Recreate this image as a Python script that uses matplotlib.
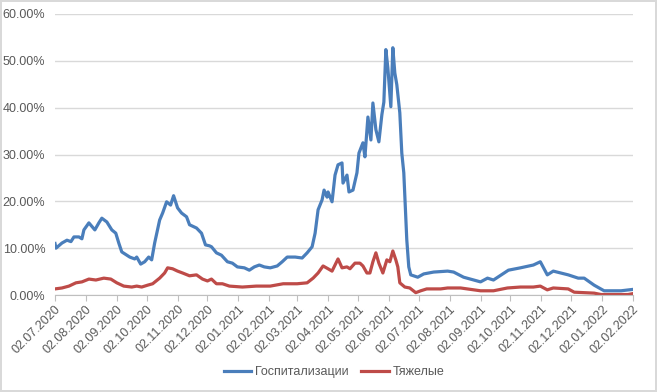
import pandas as pd
import matplotlib.pyplot as plt
import matplotlib.dates as mdates
from matplotlib.ticker import FuncFormatter

start = pd.Timestamp('2020-07-02')

# days since 02.07.2020, share in %
hosp_days = [0, 1, 7, 12, 16, 19, 24, 27, 29, 34, 40, 44, 47, 52, 57, 61, 64, 67, 75, 80,
             82, 86, 90, 94, 97, 100, 105, 108, 112, 116, 119, 123, 127, 132, 135, 142, 147,
             151, 155, 157, 162, 167, 173, 178, 183, 190, 195, 200, 205, 210, 216, 223, 228,
             233, 241, 248, 253, 258, 261, 264, 268, 270, 273, 274, 278, 281, 284, 288, 289,
             293, 295, 299, 303, 305, 309, 311, 314, 317, 319, 322, 325, 328, 330, 332, 334,
             337, 339, 341, 343, 346, 348, 350, 353, 355, 357, 364, 370, 380, 394, 400, 410,
             427, 434, 440, 455, 467, 480, 487, 494, 500, 515, 525, 531, 541, 551, 568, 580]
hosp_vals = [11.0, 10.0, 11.1, 11.7, 11.4, 12.4, 12.4, 12.0, 13.9, 15.4, 13.9, 15.4, 16.4,
             15.6, 13.9, 13.2, 11.1, 9.2, 8.1, 7.7, 8.1, 6.6, 7.1, 8.1, 7.5, 11.1, 16.0, 17.5,
             19.9, 19.2, 21.2, 18.6, 17.5, 16.7, 15.0, 14.3, 13.2, 10.7, 10.5, 10.3, 9.0, 8.5,
             7.1, 6.8, 6.0, 5.8, 5.3, 6.0, 6.4, 6.0, 5.8, 6.2, 7.1, 8.1, 8.1, 7.9, 9.0, 10.3,
             13.2, 18.2, 20.3, 22.4, 20.9, 22.0, 19.9, 25.6, 27.8, 28.2, 23.9, 25.6, 22.0, 22.4,
             26.1, 30.3, 32.5, 29.5, 38.0, 33.1, 41.0, 35.3, 32.7, 38.5, 41.2, 52.4, 48.5, 40.2,
             52.8, 47.4, 44.9, 38.9, 30.3, 26.1, 11.8, 6.0, 4.3, 3.8, 4.5, 4.9, 5.1, 4.9, 3.8,
             2.8, 3.6, 3.2, 5.3, 5.8, 6.4, 7.1, 4.3, 5.1, 4.3, 3.6, 3.6, 2.1, 0.9, 0.9, 1.2]

severe_days = [0, 7, 14, 21, 27, 34, 41, 49, 56, 62, 69, 77, 82, 87, 93, 98, 105, 110, 113,
               118, 123, 128, 135, 142, 148, 153, 157, 162, 168, 175, 188, 202, 216, 229, 243,
               253, 259, 264, 269, 274, 278, 284, 288, 293, 296, 301, 306, 309, 313, 316, 319,
               322, 325, 329, 333, 336, 339, 342, 344, 346, 351, 356, 362, 367, 373, 387, 394,
               407, 427, 440, 454, 467, 480, 487, 494, 500, 515, 521, 541, 548, 575, 580]
severe_vals = [1.3, 1.5, 1.9, 2.6, 2.8, 3.4, 3.2, 3.6, 3.4, 2.6, 1.9, 1.7, 1.9, 1.7, 2.1, 2.4,
               3.6, 4.7, 5.8, 5.6, 5.1, 4.7, 4.1, 4.3, 3.4, 3.0, 3.4, 2.4, 2.4, 1.9, 1.7, 1.9,
               1.9, 2.4, 2.4, 2.6, 3.6, 4.7, 6.2, 5.6, 5.1, 7.7, 5.8, 6.0, 5.6, 6.8, 6.8, 6.2,
               4.7, 4.7, 7.1, 9.0, 6.8, 4.7, 7.5, 7.1, 9.4, 7.5, 6.0, 2.6, 1.7, 1.5, 0.5, 0.9,
               1.3, 1.3, 1.5, 1.5, 0.9, 0.9, 1.5, 1.7, 1.7, 1.9, 1.1, 1.5, 1.3, 0.6, 0.4, 0.1,
               0.1, 0.3]

labels = ['Госпитализации', 'Тяжелые']

hosp_dates = start + pd.to_timedelta(hosp_days, unit='D')
severe_dates = start + pd.to_timedelta(severe_days, unit='D')
tick_dates = pd.date_range('2020-07-01', '2022-02-01', freq='MS') + pd.Timedelta(days=1)

plt.rcParams['font.family'] = ['Liberation Sans', 'DejaVu Sans']
grey = '#595959'

fig = plt.figure(figsize=(6.57, 3.92), dpi=100)
fig.patch.set_edgecolor('#D9D9D9')
fig.patch.set_linewidth(1.5)
ax = fig.add_axes([55 / 657, 1 - 295 / 392, 578 / 657, 281 / 392])

ax.plot(hosp_dates, [v / 100 for v in hosp_vals], color='#4A7EBB', lw=2.3, label=labels[0])
ax.plot(severe_dates, [v / 100 for v in severe_vals], color='#BE4B48', lw=2.3, label=labels[1])

ax.set_ylim(0, 0.6)
ax.set_yticks([i / 10 for i in range(7)])
ax.yaxis.set_major_formatter(FuncFormatter(lambda v, p: f'{v * 100:.2f}%'))
ax.set_xlim(start, pd.Timestamp('2022-02-02'))
ax.set_xticks(tick_dates)
ax.xaxis.set_major_formatter(mdates.DateFormatter('%d.%m.%Y'))

ax.grid(axis='y', color='#D9D9D9', lw=1)
ax.set_axisbelow(True)
for s in ['top', 'right', 'left']:
    ax.spines[s].set_visible(False)
ax.spines['bottom'].set_color('#BFBFBF')
ax.tick_params(axis='y', length=0, pad=7, labelsize=9, labelcolor=grey)
ax.tick_params(axis='x', length=4, color='#BFBFBF', pad=2, labelsize=9, labelcolor=grey)
for t in ax.get_xticklabels():
    t.set_rotation(45)
    t.set_ha('right')
    t.set_va('top')
    t.set_rotation_mode('anchor')

fig.legend(loc='center', bbox_to_anchor=(334 / 657, 1 - 372 / 392), ncol=2, frameon=False,
           fontsize=9, labelcolor=grey, handlelength=2.2, handletextpad=0.3, columnspacing=1.0)

fig.savefig('out.png', dpi=100)
